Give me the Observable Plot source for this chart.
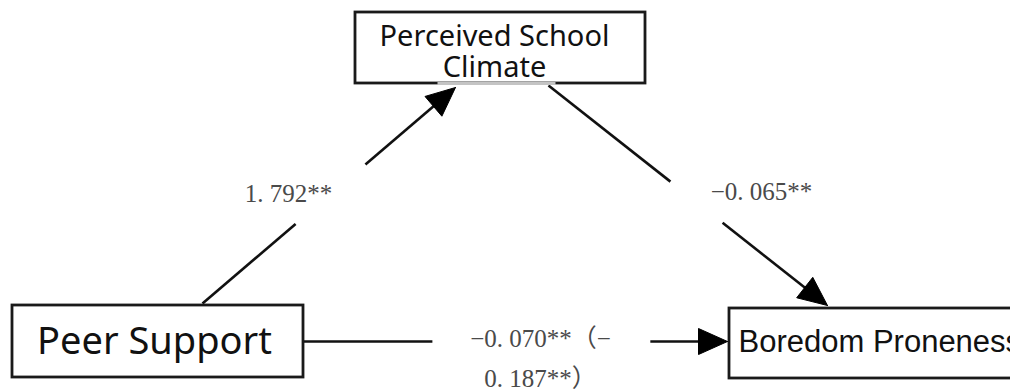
<!DOCTYPE html>
<html><head><meta charset="utf-8">
<script src="https://cdn.jsdelivr.net/npm/d3@7"></script>
<script src="https://cdn.jsdelivr.net/npm/@observablehq/plot@0.6"></script>
<style>html,body{margin:0;padding:0;background:#fff} svg{display:block}</style>
</head><body><div id="chart"></div>
<script>
// ---- Data: mediation path model ----
const variables = ["Perceived School\nClimate", "Peer Support", "Boredom Proneness"];
const pathFrom = [1, 0, 1];           // indices into variables
const pathTo = [0, 2, 2];
const coefficients = ["1. 792**", "−0. 065**", "−0. 070**（−\n0. 187**）"];

// ---- Layout (diagram geometry, pixels) ----
const boxLayout = [
  {x1: 355, y1: 12,  x2: 645,  y2: 83,  tx: 494, ty: 51,  anchor: "middle", size: 29, lh: 1.08, font: "Noto Sans"},
  {x1: 12,  y1: 305, x2: 303,  y2: 377, tx: 154, ty: 341, anchor: "middle", size: 38, lh: 1,    font: "Noto Sans"},
  {x1: 729, y1: 308, x2: 1030, y2: 378, tx: 738, ty: 342, anchor: "start",  size: 31, lh: 1,    font: "Liberation Sans"}
];
const pathLayout = [
  {sx: 202, sy: 303, ex: 455, ey: 87,  g1: 0.368, g2: 0.644, lx: 288, ly: 189},
  {sx: 548, sy: 85,  ex: 827, ey: 305, g1: 0.437, g2: 0.624, lx: 761, ly: 187},
  {sx: 303, sy: 341, ex: 727, ey: 341, g1: 0.304, g2: 0.818, lx: 540, ly: 354}
];
const headLen = 29, headHalf = 13;

const boxes = variables.map((name, i) => ({name, ...boxLayout[i]}));
const paths = coefficients.map((coef, i) => {
  const g = pathLayout[i];
  const dx = g.ex - g.sx, dy = g.ey - g.sy, len = Math.hypot(dx, dy);
  const ux = dx / len, uy = dy / len;
  return {from: variables[pathFrom[i]], to: variables[pathTo[i]], coef, ...g, ux, uy, len};
});
const segments = paths.flatMap(p => [
  {x1: p.sx, y1: p.sy, x2: p.sx + p.g1 * (p.ex - p.sx), y2: p.sy + p.g1 * (p.ey - p.sy)},
  {x1: p.sx + p.g2 * (p.ex - p.sx), y1: p.sy + p.g2 * (p.ey - p.sy), x2: p.ex - (headLen - 4) * p.ux, y2: p.ey - (headLen - 4) * p.uy}
]);
const heads = paths.flatMap((p, i) => {
  const bx = p.ex - headLen * p.ux, by = p.ey - headLen * p.uy;
  const nx = -p.uy, ny = p.ux;
  return [
    {k: i, x: p.ex, y: p.ey},
    {k: i, x: bx + headHalf * nx, y: by + headHalf * ny},
    {k: i, x: bx - headHalf * nx, y: by - headHalf * ny},
    {k: i, x: p.ex, y: p.ey}
  ];
});

const marks = [
  Plot.link(segments, {x1: "x1", y1: "y1", x2: "x2", y2: "y2", stroke: "#111", strokeWidth: 2.6}),
  Plot.rect(boxes, {x1: "x1", x2: "x2", y1: "y1", y2: "y2", fill: "white", stroke: "#1a1a1a", strokeWidth: 2.8}),
  Plot.link([boxes[0]], {x1: 437, x2: 555, y1: d => d.y2, y2: d => d.y2, stroke: "#c4c4c4", strokeWidth: 2.8}),
  Plot.line(heads, {x: "x", y: "y", z: "k", fill: "black", stroke: "black", strokeWidth: 1}),
  ...boxes.map(b => Plot.text([b], {
    x: "tx", y: "ty", text: "name", textAnchor: b.anchor, lineAnchor: "middle",
    fontSize: b.size, lineHeight: b.lh, fontFamily: b.font, fill: "#111"
  })),
  Plot.text(paths, {
    x: "lx", y: "ly", text: "coef", textAnchor: "middle", lineAnchor: "middle",
    fontSize: 25, lineHeight: 1.6, fontFamily: "Liberation Serif, 'Noto Sans CJK SC', serif", fill: "#4a4a4a"
  })
];

const chart = Plot.plot({
  width: 1010, height: 390,
  margin: 0,
  x: {domain: [0, 1010], range: [0, 1010], axis: null},
  y: {domain: [0, 390], range: [0, 390], axis: null},
  style: {background: "white", overflow: "hidden"},
  marks
});
document.getElementById("chart").appendChild(chart);
</script>
</body></html>
